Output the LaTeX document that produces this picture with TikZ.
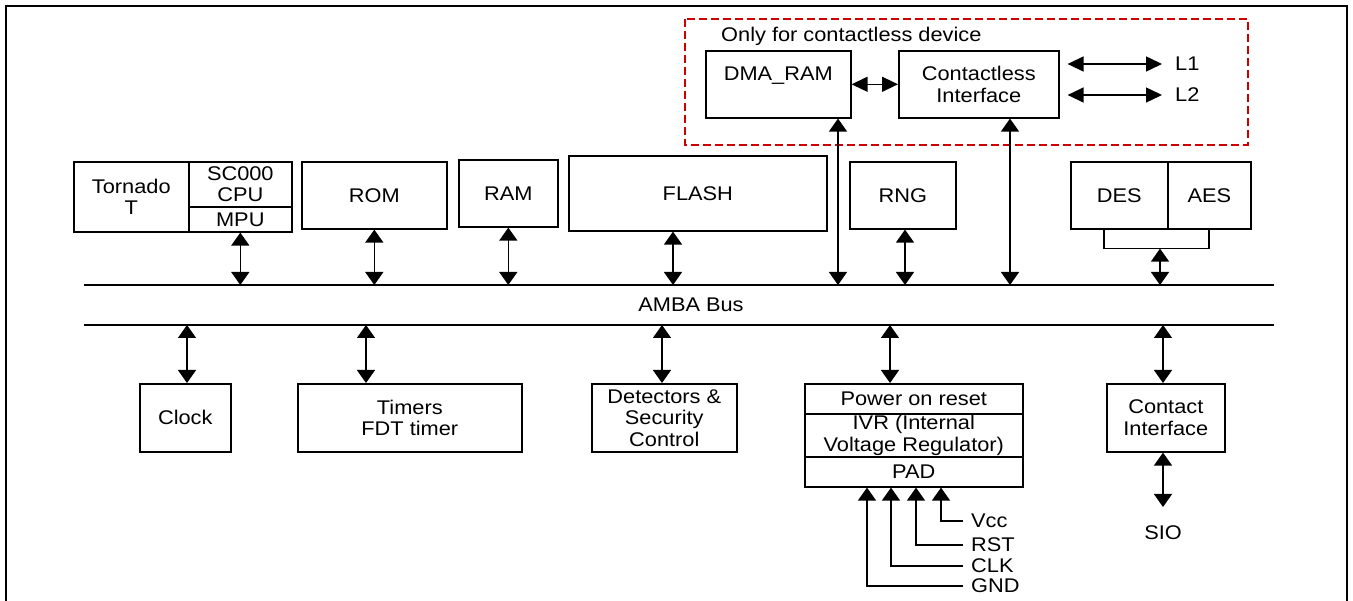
\documentclass[tikz,border=0pt]{standalone}
\usepackage{fontspec}
\setmainfont{Liberation Sans}[FakeStretch=1.1]
\usetikzlibrary{arrows.meta,calc}
\definecolor{dashred}{RGB}{204,0,0}
\begin{document}
\begin{tikzpicture}[x=1pt,y=-1pt,
  font=\fontsize{19.8}{21.5}\selectfont,
  box/.style={draw,line width=1.6pt,inner sep=0pt,align=center,anchor=north west},
  bi/.style={line width=1.4pt,{Triangle[length=13pt,width=18pt]}-{Triangle[length=13pt,width=18pt]}},
  bih/.style={line width=1.4pt,{Triangle[length=16pt,width=15pt]}-{Triangle[length=16pt,width=15pt]}},
  inarr/.style={line width=1.4pt,-{Triangle[length=13pt,width=18pt]}},
  conn/.style={line width=1.4pt},
  bus/.style={line width=1.3pt},
  lab/.style={anchor=west,inner xsep=8pt,inner ysep=0pt},
  reddash/.style={draw=dashred,line width=1.5pt,dash pattern=on 8pt off 4pt}
]
\useasboundingbox (0,0) rectangle (1353,601);
\draw[line width=2pt] (6,605) -- (6,6) -- (1347,6) -- (1347,605);

% contactless group
\draw[reddash] (685,19) rectangle (1248,145);
\node[anchor=base west,inner sep=0pt] (only) at (721,42) {Only for contactless device};
\node[box,minimum width=145pt,minimum height=67pt] (dma) at (705,50) {DMA\_RAM\\\mbox{}};
\node[box,minimum width=160pt,minimum height=67pt] (cl) at (898,50) {Contactless\\Interface};
\node[anchor=west,inner xsep=13pt,inner ysep=0pt] (l1) at (1162,64) {L1};
\node[anchor=west,inner xsep=13pt,inner ysep=0pt] (l2) at (1162,95) {L2};
\draw[bih] (dma.east) -- (cl.west);
\draw[bih] ($(cl.east |- l1)+(8,0)$) -- (l1.west);
\draw[bih] ($(cl.east |- l2)+(8,0)$) -- (l2.west);

% top row
\node[box,minimum width=115pt,minimum height=70pt] (tornado) at (73,161) {Tornado\\T};
\node[box,minimum width=103pt,minimum height=45pt] (cpu) at (188,161) {SC000\\CPU};
\node[box,minimum width=103pt,minimum height=25pt] (mpu) at (188,206) {MPU};
\node[box,minimum width=145pt,minimum height=67pt] (rom) at (301,161) {ROM};
\node[box,minimum width=99pt,minimum height=67pt] (ram) at (458,159) {RAM};
\node[box,minimum width=258pt,minimum height=75pt] (flash) at (568,155) {FLASH};
\node[box,minimum width=106pt,minimum height=67pt] (rng) at (849,161) {RNG};
\node[box,minimum width=97pt,minimum height=67pt] (des) at (1070,161) {DES};
\node[box,minimum width=83pt,minimum height=67pt] (aes) at (1167,161) {AES};

% buses
\coordinate (bt) at (84,285);
\coordinate (bte) at (1274,285);
\coordinate (bb) at (84,325);
\coordinate (bbe) at (1274,325);
\draw[bus] (bt) -- (bte);
\draw[bus] (bb) -- (bbe);
\node (amba) at (691,305) {AMBA Bus};

% top connectors
\draw[bi] (mpu.south) -- (mpu.south |- bt);
\draw[bi] (rom.south) -- (rom.south |- bt);
\draw[bi] (ram.south) -- (ram.south |- bt);
\coordinate (fa) at ($(flash.south west)+(105,0)$);
\draw[bi] (fa) -- (fa |- bt);
\coordinate (da) at ($(dma.south west)+(133,0)$);
\draw[bi] (da) -- (da |- bt);
\coordinate (ca) at ($(cl.south west)+(112,0)$);
\draw[bi] (ca) -- (ca |- bt);
\coordinate (ra) at ($(rng.south west)+(56,0)$);
\draw[bi] (ra) -- (ra |- bt);
\coordinate (b1) at ($(des.south west)+(34,0)$);
\coordinate (b2) at ($(aes.south west)+(42,0)$);
\draw[conn] (b1) -- ++(0,19) -| (b2);
\coordinate (bm) at ($(b1)+(56,19)$);
\draw[bi] (bm) -- (bm |- bt);

% bottom row
\node[box,minimum width=91pt,minimum height=68pt] (clock) at (139,383) {Clock};
\node[box,minimum width=224pt,minimum height=68pt] (timers) at (297,383) {Timers\\FDT timer};
\node[box,minimum width=145pt,minimum height=68pt] (det) at (591,383) {Detectors \&\\Security\\Control};
\node[box,minimum width=218pt,minimum height=30pt] (por) at (804,383) {Power on reset};
\node[box,minimum width=218pt,minimum height=43pt] (ivr) at (804,413) {IVR (Internal\\Voltage Regulator)};
\node[box,minimum width=218pt,minimum height=30pt] (pad) at (804,456) {PAD};
\node[box,minimum width=118pt,minimum height=68pt] (contact) at (1106,383) {Contact\\Interface};
\node[anchor=north,inner ysep=0pt] (sio) at (1163,525) {SIO};

% bottom connectors
\coordinate (k1) at ($(clock.north west)+(48,0)$);
\draw[bi] (k1 |- bb) -- (k1);
\coordinate (k2) at ($(timers.north west)+(69,0)$);
\draw[bi] (k2 |- bb) -- (k2);
\coordinate (k3) at ($(det.north west)+(71,0)$);
\draw[bi] (k3 |- bb) -- (k3);
\coordinate (k4) at ($(por.north west)+(86,0)$);
\draw[bi] (k4 |- bb) -- (k4);
\coordinate (k5) at ($(contact.north west)+(57,0)$);
\draw[bi] (k5 |- bb) -- (k5);
\coordinate (k6) at ($(contact.south west)+(57,0)$);
\draw[bi] (k6) -- ($(sio.north)+(0,-18)$);

% power inputs
\node[lab] (vcc) at (963,521) {Vcc};
\node[lab] (rst) at (963,545) {RST};
\node[lab] (clk) at (963,566) {CLK};
\node[lab] (gnd) at (963,586) {GND};
\coordinate (p1) at ($(pad.south west)+(63,0)$);
\coordinate (p2) at ($(pad.south west)+(87,0)$);
\coordinate (p3) at ($(pad.south west)+(112,0)$);
\coordinate (p4) at ($(pad.south west)+(137,0)$);
\draw[inarr] (vcc.west) -| (p4);
\draw[inarr] (rst.west) -| (p3);
\draw[inarr] (clk.west) -| (p2);
\draw[inarr] (gnd.west) -| (p1);
\end{tikzpicture}
\end{document}
